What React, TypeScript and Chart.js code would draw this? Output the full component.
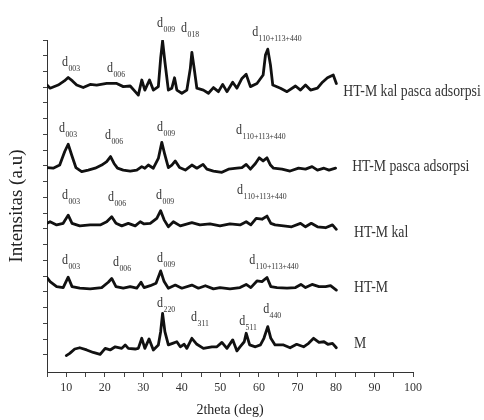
import React, { useEffect, useRef } from 'react';
import { Chart, registerables } from 'chart.js';

Chart.register(...registerables);

// ---- data (2theta in degrees, intensity in arbitrary stacked units) ----
const seriesNames = ['HT-M kal pasca adsorpsi', 'HT-M pasca adsorpsi', 'HT-M kal', 'HT-M', 'M'];

const kalPascaX = [5, 5.8, 7.9, 9.5, 10.5, 11.6, 12.7, 14.4, 16.2, 17.9, 20.5, 23.1, 24.8, 26.6, 27.9, 28.7, 29.6, 30.4, 31.6, 32.6, 33.9, 34.5, 35.0, 35.6, 36.5, 37.4, 38.1, 38.7, 40.0, 41.3, 42.2, 42.6, 43.2, 43.9, 45.6, 46.9, 48.2, 49.5, 50.6, 51.7, 53.2, 54.3, 55.6, 56.7, 57.8, 59.5, 61.1, 61.7, 62.3, 63.0, 63.6, 65.6, 67.3, 69.5, 70.8, 72.1, 73.4, 75.2, 76.5, 77.8, 79.3, 80.1];
const kalPascaY = [8.57, 8.47, 8.57, 8.7, 8.81, 8.7, 8.57, 8.49, 8.59, 8.57, 8.62, 8.62, 8.52, 8.54, 8.36, 8.25, 8.73, 8.41, 8.73, 8.41, 8.52, 9.42, 9.97, 9.31, 8.41, 8.47, 8.80, 8.41, 8.31, 8.41, 9.10, 9.61, 9.10, 8.47, 8.41, 8.31, 8.49, 8.36, 8.59, 8.36, 8.66, 8.47, 8.78, 8.91, 8.52, 8.62, 8.89, 9.52, 9.71, 9.21, 8.57, 8.47, 8.36, 8.54, 8.41, 8.57, 8.41, 8.47, 8.66, 8.80, 8.89, 8.62];

const pascaX = [5, 6.6, 8.3, 9.6, 10.5, 11.4, 12.5, 14.0, 15.7, 17.5, 19.2, 20.5, 21.5, 22.4, 23.3, 24.8, 26.6, 28.3, 29.6, 30.4, 31.3, 32.6, 33.9, 34.8, 35.6, 36.5, 37.4, 38.3, 39.4, 40.9, 42.6, 43.9, 45.5, 46.5, 48.2, 50.4, 52.1, 54.3, 55.6, 56.7, 57.8, 59.1, 60.1, 61.1, 62.1, 63.0, 63.8, 66.0, 68.1, 70.3, 72.1, 73.8, 75.2, 76.9, 78.2, 79.9];
const pascaY = [5.95, 5.93, 6.03, 6.46, 6.69, 6.35, 5.95, 5.82, 5.87, 5.93, 6.03, 6.14, 6.30, 6.08, 5.93, 5.87, 5.84, 5.87, 5.98, 5.93, 6.03, 5.93, 6.24, 6.75, 6.35, 5.95, 6.03, 6.16, 5.95, 5.87, 6.03, 5.93, 6.05, 5.90, 5.84, 5.80, 5.90, 5.93, 5.95, 6.05, 5.90, 6.08, 6.26, 6.16, 6.26, 6.03, 5.93, 5.90, 5.84, 5.93, 5.90, 5.98, 5.87, 5.93, 5.87, 5.93];

const kalX = [5, 5.8, 7.5, 9.2, 10.5, 11.5, 13.5, 16.2, 18.8, 20.5, 21.8, 22.9, 24.4, 26.1, 27.9, 29.2, 30.2, 31.8, 33.5, 34.5, 35.4, 36.5, 37.8, 39.6, 42.6, 44.7, 47.3, 49.9, 52.5, 55.1, 56.7, 57.9, 59.3, 60.8, 62.1, 63.1, 64.2, 66.4, 68.5, 70.8, 72.1, 73.6, 75.2, 77.3, 79.1, 80.1];
const kalY = [4.18, 4.23, 4.13, 4.18, 4.44, 4.18, 4.10, 4.13, 4.13, 4.23, 4.39, 4.18, 4.10, 4.18, 4.10, 4.23, 4.16, 4.18, 4.34, 4.58, 4.29, 4.07, 4.23, 4.10, 4.20, 4.13, 4.16, 4.10, 4.16, 4.13, 4.23, 4.13, 4.34, 4.31, 4.41, 4.18, 4.13, 4.10, 4.07, 4.18, 4.07, 4.18, 4.07, 4.04, 4.13, 3.99];

const htmX = [5, 5.8, 7.5, 9.2, 10.5, 11.5, 13.5, 16.2, 19.2, 20.9, 21.8, 22.9, 24.8, 26.6, 28.3, 29.4, 30.2, 31.8, 33.3, 34.5, 35.4, 36.5, 38.3, 40.0, 42.6, 44.3, 46.1, 48.2, 49.9, 52.5, 55.1, 56.7, 57.9, 59.5, 60.8, 62.1, 63.1, 64.7, 67.3, 69.5, 70.9, 72.1, 73.8, 75.6, 77.3, 78.6, 80.1];
const htmY = [2.46, 2.33, 2.17, 2.14, 2.47, 2.17, 2.12, 2.10, 2.14, 2.31, 2.43, 2.17, 2.12, 2.17, 2.12, 2.31, 2.14, 2.20, 2.28, 2.67, 2.33, 2.12, 2.22, 2.12, 2.22, 2.12, 2.20, 2.10, 2.14, 2.10, 2.14, 2.24, 2.14, 2.35, 2.33, 2.46, 2.17, 2.14, 2.12, 2.14, 2.24, 2.14, 2.24, 2.17, 2.17, 2.20, 2.06];

const mX = [10.0, 10.9, 12.2, 13.5, 15.3, 17.0, 18.8, 20.1, 21.4, 22.7, 24.4, 25.3, 26.1, 27.9, 28.7, 29.6, 30.4, 31.5, 32.6, 33.9, 34.5, 35.0, 35.6, 36.5, 37.6, 38.7, 39.6, 40.6, 41.3, 42.6, 43.9, 45.6, 47.8, 49.1, 50.4, 51.7, 53.2, 54.3, 55.1, 56.2, 56.7, 57.6, 59.1, 60.4, 61.3, 62.3, 63.1, 64.2, 66.4, 68.1, 69.8, 71.6, 72.9, 74.2, 75.6, 76.9, 77.9, 79.1, 80.1];
const mY = [-0.02, 0.05, 0.19, 0.23, 0.16, 0.08, 0.02, 0.21, 0.16, 0.26, 0.21, 0.32, 0.21, 0.19, 0.21, 0.53, 0.21, 0.51, 0.16, 0.32, 0.74, 1.32, 0.74, 0.32, 0.37, 0.42, 0.26, 0.34, 0.21, 0.53, 0.34, 0.21, 0.26, 0.26, 0.40, 0.21, 0.48, 0.13, 0.26, 0.42, 0.69, 0.32, 0.26, 0.32, 0.53, 0.90, 0.53, 0.32, 0.32, 0.23, 0.34, 0.26, 0.37, 0.53, 0.40, 0.42, 0.34, 0.37, 0.23];

const seriesX = [kalPascaX, pascaX, kalX, htmX, mX];
const seriesY = [kalPascaY, pascaY, kalY, htmY, mY];

// series name anchors (data coords)
const nameX = [81.9, 84.2, 84.7, 84.7, 84.7];
const nameY = [8.35, 5.97, 3.87, 2.13, 0.35];

// peak labels: "d" with subscript, anchored in data coords
const peakSub = ['003', '006', '009', '018', '110+113+440', '003', '006', '009', '110+113+440', '003', '006', '009', '110+113+440', '003', '006', '009', '110+113+440', '220', '311', '511', '440'];
const peakX = [9.68, 21.36, 34.35, 40.58, 59.03, 8.9, 20.84, 34.35, 54.87, 9.68, 21.62, 34.09, 55.13, 9.68, 22.92, 34.35, 58.25, 34.35, 43.18, 55.65, 61.88];
const peakY = [9.30, 9.11, 10.54, 10.38, 10.25, 7.21, 6.98, 7.24, 7.14, 5.08, 5.02, 5.08, 5.24, 3.02, 2.95, 3.08, 3.02, 1.65, 1.21, 1.08, 1.46];

const xTickValues = [5, 10, 15, 20, 25, 30, 35, 40, 45, 50, 55, 60, 65, 70, 75, 80, 85, 90, 95, 100];
const yTickValues = [0, 0.5, 1, 1.5, 2, 2.5, 3, 3.5, 4, 4.5, 5, 5.5, 6, 6.5, 7, 7.5, 8, 8.5, 9, 9.5, 10];

const SERIF = '"Liberation Serif", "Times New Roman", serif';

const labelPlugin = {
  id: 'xrdLabels',
  afterDraw(chart: any) {
    const { ctx } = chart;
    const xs = chart.scales.x;
    const ys = chart.scales.y;
    ctx.save();
    ctx.fillStyle = '#333';
    ctx.textBaseline = 'middle';
    seriesNames.forEach((name, i) => {
      const px = xs.getPixelForValue(nameX[i]);
      const py = ys.getPixelForValue(nameY[i]);
      ctx.save();
      ctx.translate(px, py);
      ctx.scale(0.86, 1);
      ctx.font = `16px ${SERIF}`;
      ctx.textAlign = 'left';
      ctx.fillText(name, 0, 0);
      ctx.restore();
    });
    peakSub.forEach((sub, i) => {
      const px = xs.getPixelForValue(peakX[i]);
      const py = ys.getPixelForValue(peakY[i]);
      ctx.save();
      ctx.translate(px, py);
      ctx.scale(0.86, 1);
      ctx.font = `14px ${SERIF}`;
      ctx.textAlign = 'center';
      ctx.fillText('d', 0, 0);
      const w = ctx.measureText('d').width;
      ctx.font = `9px ${SERIF}`;
      ctx.textAlign = 'left';
      ctx.fillText(sub, w / 2 + 0.5, 7);
      ctx.restore();
    });
    ctx.restore();
  },
};

export default function App() {
  const canvasRef = useRef<HTMLCanvasElement | null>(null);

  useEffect(() => {
    if (!canvasRef.current) return;
    const datasets = seriesNames.map((name, i) => ({
      label: name,
      data: seriesX[i].map((x, j) => ({ x, y: seriesY[i][j] })),
      borderColor: '#111',
      borderWidth: 2.8,
      borderJoinStyle: 'round' as const,
      borderCapStyle: 'round' as const,
      pointRadius: 0,
      tension: 0,
      fill: false,
    }));
    const chart = new Chart(canvasRef.current, {
      type: 'line',
      data: { datasets },
      plugins: [labelPlugin],
      options: {
        animation: false,
        responsive: false,
        devicePixelRatio: 1,
        layout: { padding: { top: 40, right: 71, left: 0, bottom: 0 } },
        plugins: { legend: { display: false }, tooltip: { enabled: false } },
        scales: {
          x: {
            type: 'linear',
            min: 5,
            max: 100,
            afterBuildTicks: (scale: any) => {
              scale.ticks = xTickValues.map((v) => ({ value: v }));
            },
            afterFit: (scale: any) => {
              scale.height = 48;
            },
            ticks: {
              autoSkip: false,
              maxRotation: 0,
              padding: 4,
              color: '#333',
              font: { family: SERIF, size: 12 },
              callback: (v: any) => (Number(v) % 10 === 0 ? String(v) : ''),
            },
            grid: { drawOnChartArea: false, tickLength: 5, tickColor: '#444', tickWidth: 1 },
            border: { display: true, color: '#333', width: 1 },
            title: {
              display: true,
              text: '2theta (deg)',
              color: '#222',
              font: { family: SERIF, size: 14, lineHeight: 1 },
              padding: { top: 0, bottom: 3 },
            },
          },
          y: {
            type: 'linear',
            min: -0.54,
            max: 10,
            afterBuildTicks: (scale: any) => {
              scale.ticks = yTickValues.map((v) => ({ value: v }));
            },
            afterFit: (scale: any) => {
              scale.width = 47;
            },
            ticks: { display: false },
            grid: { drawOnChartArea: false, tickLength: 4, tickColor: '#444', tickWidth: 1 },
            border: { display: true, color: '#333', width: 1 },
            title: {
              display: true,
              text: 'Intensitas (a.u)',
              color: '#222',
              font: { family: SERIF, size: 19, lineHeight: 1 },
              padding: { top: 8, bottom: 0 },
            },
          },
        },
      },
    });
    return () => chart.destroy();
  }, []);

  return (
    <div style={{ position: 'fixed', left: 0, top: 0, width: 484, height: 420, background: '#fff' }}>
      <canvas ref={canvasRef} width={484} height={420} style={{ width: 484, height: 420, display: 'block' }} />
    </div>
  );
}
